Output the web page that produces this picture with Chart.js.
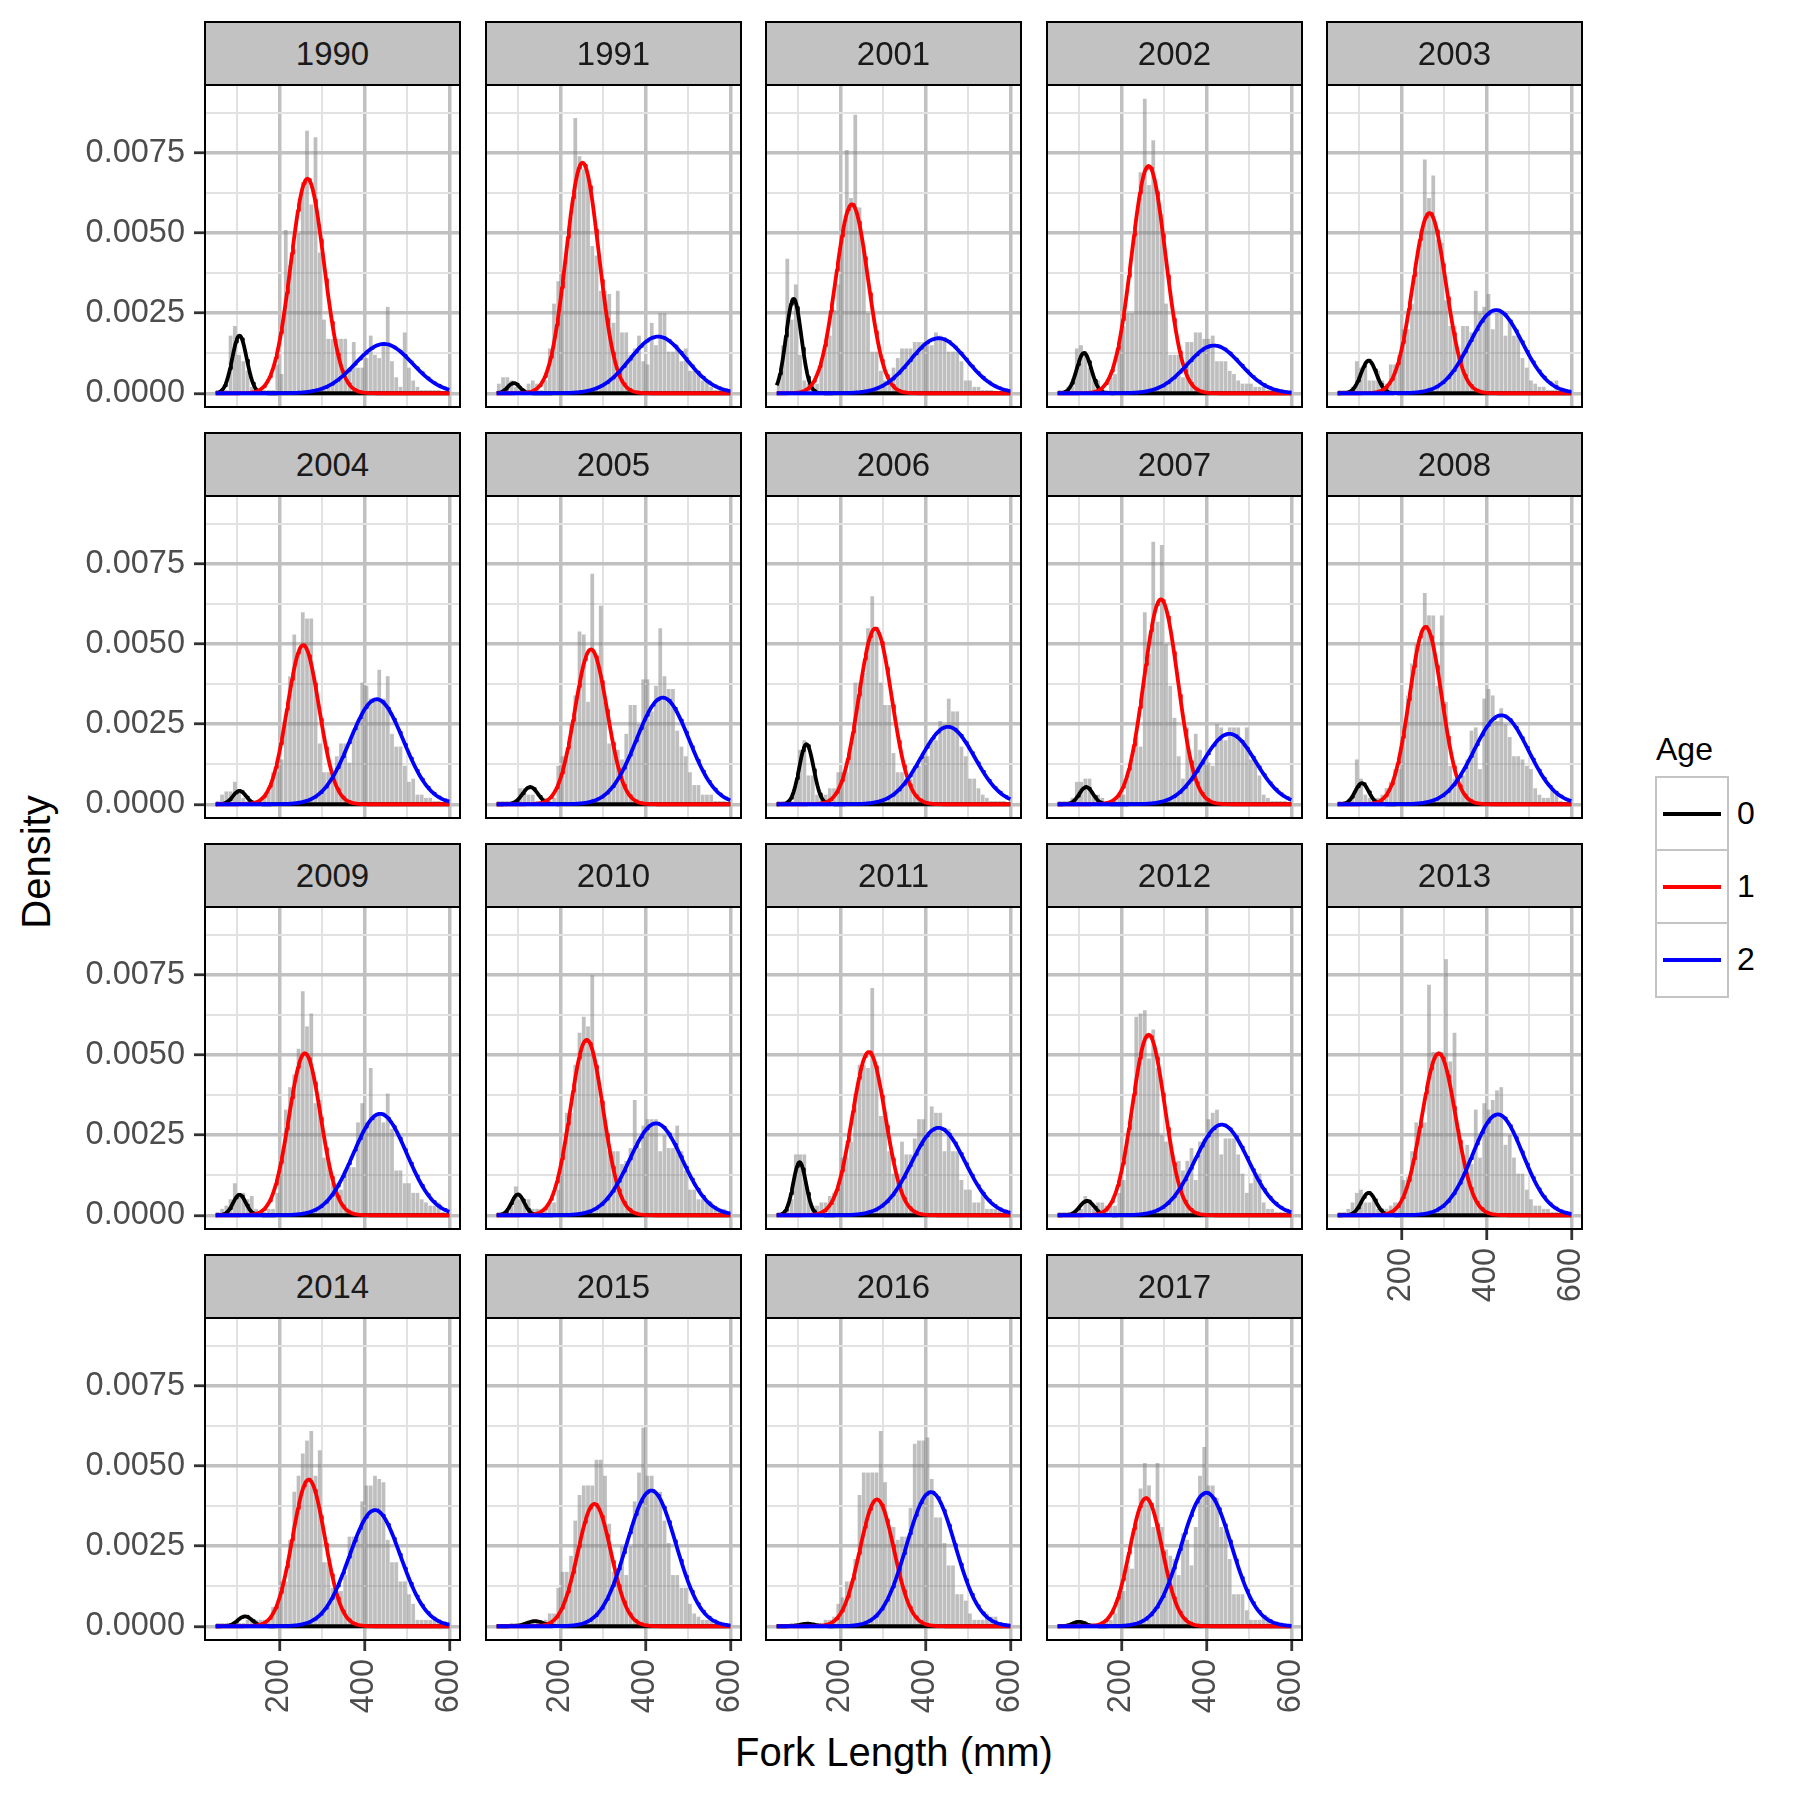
<!DOCTYPE html>
<html>
<head>
<meta charset="utf-8">
<title>Fork length density by year and age</title>
<script src="https://cdn.jsdelivr.net/npm/chart.js@4.4.1/dist/chart.umd.min.js"></script>
<style>
  html, body { margin:0; padding:0; background:#ffffff; }
  #root { position:relative; width:1799px; height:1799px; overflow:hidden; background:#fff;
          font-family:"Liberation Sans", Arial, Helvetica, sans-serif; }
  .strip { position:absolute; box-sizing:border-box; background:#c2c2c2; border:2px solid #000;
           color:#1a1a1a; font-size:33px; display:flex; align-items:center; justify-content:center; z-index:2; }
  canvas { position:absolute; z-index:1; }
  .axis-title { position:absolute; font-size:40px; line-height:40px; color:#000; white-space:nowrap; }
  .legend-title { position:absolute; font-size:32px; line-height:32px; color:#000; }
  .key { position:absolute; box-sizing:border-box; border:2.5px solid #c4c4c4; background:#fff; }
  .key-line { position:absolute; left:6px; right:6px; top:50%; height:4px; margin-top:-2px; }
  .key-label { position:absolute; font-size:32px; line-height:32px; color:#000; }
</style>
</head>
<body>
<div id="root"></div>
<script>
// ---------------- data ----------------
const YEARS = ['1990','1991','2001','2002','2003','2004','2005','2006','2007','2008',
               '2009','2010','2011','2012','2013','2014','2015','2016','2017'];

// histogram bin centres (mm), 10 mm bins
const BIN_CENTERS = [55,65,75,85,95,105,115,125,135,145,
                     155,165,175,185,195,205,215,225,235,245,
                     255,265,275,285,295,305,315,325,335,345,
                     355,365,375,385,395,405,415,425,435,445,
                     455,465,475,485,495,505,515,525,535,545,
                     555,565,575,585,595];

// histogram densities, in units of 1e-4
const DENSITY_UNIT = 1e-4;
const hist1990 = [1,1,1,18,21,12,10,7,2,1, 1,1,1,1,9,6,51,40,45,50, 66,82,59,80,44,23,17,17,17,17, 17,8,16,8,8,11,18,12,11,15, 27,10,5,2,19,8,4,2,1,1, 1,1,1,0,0];
const hist1991 = [3,5,5,4,2,1,1,3,4,3, 1,4,14,28,35,38,46,55,86,74, 70,68,46,43,32,32,31,22,32,19, 19,12,14,18,10,9,22,15,25,25, 13,13,15,10,14,7,7,7,4,4, 2,1,1,0,0];
const hist2001 = [5,15,42,23,34,12,4,3,3,3, 8,16,18,26,34,50,76,61,87,58, 46,25,13,13,7,4,5,8,11,14, 14,14,16,16,16,15,15,19,18,17, 13,13,13,10,4,4,2,2,1,1, 1,0,0,0,0];
const hist2002 = [1,1,2,3,14,15,13,8,4,4, 1,1,5,6,15,21,25,25,50,69, 92,65,79,61,56,28,12,12,12,5, 16,16,19,19,17,17,18,10,10,10, 7,6,4,3,3,3,2,2,2,1, 1,1,0,0,0];
const hist2003 = [1,1,1,2,10,8,8,4,4,7, 4,3,9,9,12,20,20,28,38,48, 73,61,68,48,47,29,21,21,12,21, 21,19,32,25,27,31,20,25,25,18, 23,18,18,11,8,4,3,2,2,1, 1,4,1,0,0];
const hist2004 = [1,3,4,4,7,4,2,1,1,1, 1,2,4,10,10,14,25,40,53,48, 60,58,58,36,19,10,10,10,15,19, 19,13,23,25,38,37,33,33,42,33, 40,22,18,18,12,7,8,3,3,2, 2,1,1,0,0];
const hist2005 = [1,1,1,1,1,5,5,3,3,1, 1,2,1,2,12,15,16,25,34,54, 53,32,72,46,62,32,19,19,17,14, 22,31,31,25,39,39,29,37,55,40, 36,36,23,18,15,10,6,6,3,3, 3,1,1,1,0];
const hist2006 = [1,1,1,1,6,17,20,9,9,3, 3,3,5,5,10,10,10,18,38,38, 41,55,65,54,38,31,31,16,10,10, 8,8,12,12,15,15,20,20,26,25, 33,29,29,18,15,8,8,5,3,2, 1,1,1,1,0];
const hist2007 = [1,1,1,2,7,7,8,8,3,3, 2,1,1,1,3,3,9,14,21,18, 60,47,82,57,81,50,37,27,15,8, 24,13,22,17,13,13,12,25,24,20, 24,24,24,19,24,14,14,9,3,2, 1,1,1,1,0];
const hist2008 = [1,1,1,2,14,8,3,2,2,2, 3,5,7,11,11,20,34,44,50,50, 66,59,59,37,59,32,12,8,6,9, 14,23,24,11,33,36,34,26,30,25, 21,15,15,14,12,11,5,3,2,2, 5,4,1,0,0];
const hist2009 = [1,2,3,5,10,7,7,5,6,2, 1,1,2,2,7,18,33,40,44,52, 70,59,63,35,36,18,18,10,10,8, 14,15,15,29,35,29,46,31,31,29, 38,27,14,14,10,10,7,7,5,4, 3,3,4,1,0];
const hist2010 = [1,1,1,3,9,5,5,5,2,2, 2,2,4,4,8,19,32,32,47,57, 62,59,75,47,36,29,20,20,20,16, 17,21,36,21,28,30,30,30,20,25, 21,21,28,20,14,8,8,5,5,4, 4,2,2,2,1];
const hist2011 = [1,1,2,5,19,19,19,7,3,3, 4,4,6,7,8,18,18,23,38,47, 47,46,71,46,31,31,20,13,13,23, 19,19,24,30,30,25,34,32,32,20, 27,20,20,11,8,8,4,4,8,2, 2,2,2,1,0];
const hist2012 = [1,1,1,1,2,2,6,4,2,4, 4,3,3,3,7,11,24,31,62,63, 64,49,58,46,25,23,23,16,17,14, 17,21,11,23,24,30,32,33,19,24, 24,24,19,13,7,10,13,13,4,2, 2,1,1,1,0];
const hist2013 = [1,1,2,4,7,8,4,4,5,2, 2,2,3,4,4,11,12,20,29,29, 29,72,51,51,51,80,48,57,27,18, 22,16,33,18,35,33,36,39,40,22, 25,18,13,13,8,5,3,3,2,2, 1,1,1,0,0];
const hist2014 = [1,1,1,1,1,1,1,2,2,2, 2,2,2,6,6,14,14,27,42,47, 54,58,61,47,55,20,20,12,11,11, 16,28,28,28,39,44,44,47,46,45, 27,20,20,14,14,10,7,2,2,2, 2,2,2,1,0];
const hist2015 = [0,0,0,1,1,1,1,1,1,1, 1,2,4,4,12,17,17,22,33,41, 44,44,44,52,52,47,32,17,17,25, 16,25,39,48,62,47,47,42,42,33, 26,16,16,12,12,7,4,3,2,2, 2,1,1,0,0];
const hist2016 = [0,0,0,1,1,1,1,1,1,1, 1,2,2,3,7,9,14,14,21,41, 48,48,48,48,61,45,30,31,27,28, 28,37,57,58,58,59,46,34,34,26, 19,19,10,10,8,4,2,2,2,4, 3,3,1,1,0];
const hist2017 = [0,0,1,1,1,1,1,1,1,1, 1,2,2,4,11,11,19,18,32,43, 51,44,31,51,31,24,22,21,16,29, 27,19,31,47,56,44,44,40,31,30, 21,10,10,10,5,2,2,2,3,3, 1,1,1,0,0];

// fitted age-component curves (mean mm, sd mm, peak in 1e-4 units)
const age0Mean = [106,90,90,112,123,106,129,120,117,107,106,100,104,119,123,119,140,122,100];
const age0Sd   = [17,14,18,17,18,15.5,18,17,16,16,15,15,15,17,17,17,20,17,15];
const age0Peak = [18,3.2,29.5,12.6,10.2,4.2,5.4,18.75,5.4,6.6,6.4,6.5,16.6,4.5,7,3.1,1.6,0.8,1.4];
const age1Mean = [266,252,227,264,266,256,272,282,293,257,260,262,267,264,288,269,280,286,258];
const age1Sd   = [39,38.5,38,40,39,37.5,38,39,40,38,37.5,38.5,39,38,40,38,39,40,38];
const age1Peak = [67,72,59,71,56.3,49.7,48.4,54.9,64,55.4,50.6,54.8,51,56.4,50.6,45.8,38.2,39.6,40];
const age2Mean = [446,430,431,418,423,429,441,453,454,435,437,425,431,436,427,425,414,413,400];
const age2Sd   = [67,66,66,63,62,63,62,63,62,64,63,62,63,63,59,60,58,57,59];
const age2Peak = [15.4,17.7,17.2,14.9,26,32.8,33.3,24.2,22,27.8,31.7,28.7,27.3,28.3,31.5,36.3,42.4,41.9,41.7];

const AGE_LABELS = ['0','1','2'];
const AGE_COLORS = ['#000000','#ff0000','#0000ff'];

const X_MAJOR_TICKS = [200,400,600];
const X_MINOR_TICKS = [100,300,500];
const Y_MAJOR_TICKS = [0,0.0025,0.005,0.0075];
const Y_TICK_LABELS = ['0.0000','0.0025','0.0050','0.0075'];
const Y_MINOR_TICKS = [0.00125,0.00375,0.00625,0.00875];

const X_TITLE = 'Fork Length (mm)';
const Y_TITLE = 'Density';
const LEGEND_TITLE = 'Age';

// ---------------- layout ----------------
const HISTOGRAMS = [hist1990,hist1991,hist2001,hist2002,hist2003,hist2004,hist2005,hist2006,hist2007,hist2008,
                    hist2009,hist2010,hist2011,hist2012,hist2013,hist2014,hist2015,hist2016,hist2017];
const FONT = '"Liberation Sans", Arial, Helvetica, sans-serif';
const X_MIN = 22.5, X_MAX = 627.5, Y_MIN = -0.00046, Y_MAX = 0.00966;
const COL_LEFT = [204, 485, 765, 1046, 1326];
const ROW_TOP = [21, 432, 843, 1254];
const STRIP_H = 63, PANEL_W = 257, PANEL_H = 324;
const N_COLS = 5;

Chart.defaults.font.family = FONT;

function near(a, b) { return Math.abs(a - b) < 1e-9; }
function inList(list, v) { return list.some(t => near(t, v)); }

function componentCurve(mean, sd, peak) {
  const pts = [];
  for (let x = 50; x <= 600; x += 2) {
    pts.push({ x: x, y: peak * DENSITY_UNIT * Math.exp(-0.5 * Math.pow((x - mean) / sd, 2)) });
  }
  return pts;
}

const panelBorder = {
  id: 'panelBorder',
  afterDraw(chart) {
    const a = chart.chartArea, ctx = chart.ctx;
    ctx.save();
    ctx.strokeStyle = '#000';
    ctx.lineWidth = 2;
    ctx.strokeRect(a.left + 1, a.top + 1, a.right - a.left - 2, a.bottom - a.top - 2);
    ctx.restore();
  }
};

const root = document.getElementById('root');

YEARS.forEach((year, i) => {
  const col = i % N_COLS, row = Math.floor(i / N_COLS);
  const showY = col === 0;
  const showX = i + N_COLS >= YEARS.length;
  const leftExtra = showY ? 150 : 0;
  const bottomExtra = showX ? 100 : 0;
  const panelLeft = COL_LEFT[col];
  const panelTop = ROW_TOP[row] + STRIP_H;

  const strip = document.createElement('div');
  strip.className = 'strip';
  strip.style.left = panelLeft + 'px';
  strip.style.top = ROW_TOP[row] + 'px';
  strip.style.width = PANEL_W + 'px';
  strip.style.height = (STRIP_H + 2) + 'px';
  strip.textContent = year;
  root.appendChild(strip);

  const canvas = document.createElement('canvas');
  const cw = PANEL_W + leftExtra, ch = PANEL_H + bottomExtra;
  canvas.width = cw; canvas.height = ch;
  canvas.style.left = (panelLeft - leftExtra) + 'px';
  canvas.style.top = panelTop + 'px';
  canvas.style.width = cw + 'px';
  canvas.style.height = ch + 'px';
  root.appendChild(canvas);

  const hist = HISTOGRAMS[i];
  const bars = BIN_CENTERS.map((x, j) => ({ x: x, y: hist[j] * DENSITY_UNIT }));
  const comps = [
    componentCurve(age0Mean[i], age0Sd[i], age0Peak[i]),
    componentCurve(age1Mean[i], age1Sd[i], age1Peak[i]),
    componentCurve(age2Mean[i], age2Sd[i], age2Peak[i])
  ];
  const lineDs = (k, order) => ({
    type: 'line', label: AGE_LABELS[k], data: comps[k], borderColor: AGE_COLORS[k],
    borderWidth: 3.8, pointRadius: 0, fill: false, tension: 0, order: order,
    borderJoinStyle: 'round'
  });

  new Chart(canvas, {
    type: 'bar',
    data: {
      datasets: [
        lineDs(2, 0), lineDs(1, 1), lineDs(0, 2),
        { type: 'bar', label: 'hist', data: bars, backgroundColor: 'rgba(128,128,128,0.5)',
          borderWidth: 0, barPercentage: 0.88, categoryPercentage: 1, order: 3 }
      ]
    },
    options: {
      responsive: false, maintainAspectRatio: false, animation: false, events: [],
      layout: { padding: 0, autoPadding: false },
      plugins: { legend: { display: false }, tooltip: { enabled: false }, title: { display: false } },
      scales: {
        x: {
          type: 'linear', min: X_MIN, max: X_MAX, offset: false,
          afterBuildTicks: s => { s.ticks = X_MINOR_TICKS.concat(X_MAJOR_TICKS).sort((a,b)=>a-b).map(v => ({ value: v })); },
          afterFit: s => { s.height = bottomExtra; s.paddingLeft = 0; s.paddingRight = 0; },
          ticks: {
            display: showX, autoSkip: false, minRotation: 90, maxRotation: 90, padding: 8,
            color: '#4d4d4d', font: { family: FONT, size: 32.5 },
            callback: v => inList(X_MAJOR_TICKS, v) ? String(v) : ''
          },
          grid: {
            offset: false,
            color: c => (c.tick && inList(X_MAJOR_TICKS, c.tick.value)) ? '#c0c0c0' : '#e2e2e2',
            lineWidth: c => (c.tick && inList(X_MAJOR_TICKS, c.tick.value)) ? 3.5 : 2,
            drawTicks: showX, tickLength: 10, tickWidth: 2.8,
            tickColor: c => (c.tick && inList(X_MAJOR_TICKS, c.tick.value)) ? '#333333' : 'rgba(0,0,0,0)'
          },
          border: { display: false }
        },
        y: {
          type: 'linear', min: Y_MIN, max: Y_MAX,
          afterBuildTicks: s => { s.ticks = Y_MAJOR_TICKS.concat(Y_MINOR_TICKS).sort((a,b)=>a-b).map(v => ({ value: v })); },
          afterFit: s => { s.width = leftExtra; s.paddingTop = 0; s.paddingBottom = 0; },
          ticks: {
            display: showY, autoSkip: false, padding: 9,
            color: '#4d4d4d', font: { family: FONT, size: 32.5 },
            callback: v => {
              const k = Y_MAJOR_TICKS.findIndex(t => near(t, v));
              return k >= 0 ? Y_TICK_LABELS[k] : '';
            }
          },
          grid: {
            color: c => (c.tick && inList(Y_MAJOR_TICKS, c.tick.value)) ? '#c0c0c0' : '#e2e2e2',
            lineWidth: c => (c.tick && inList(Y_MAJOR_TICKS, c.tick.value)) ? 3.5 : 2,
            drawTicks: showY, tickLength: 10, tickWidth: 2.8,
            tickColor: c => (c.tick && inList(Y_MAJOR_TICKS, c.tick.value)) ? '#333333' : 'rgba(0,0,0,0)'
          },
          border: { display: false }
        }
      }
    },
    plugins: [panelBorder]
  });
});

// axis titles
const yTitle = document.createElement('div');
yTitle.className = 'axis-title';
yTitle.textContent = Y_TITLE;
yTitle.style.left = '36px';
yTitle.style.top = '862px';
yTitle.style.transform = 'translate(-50%, -50%) rotate(-90deg)';
root.appendChild(yTitle);

const xTitle = document.createElement('div');
xTitle.className = 'axis-title';
xTitle.textContent = X_TITLE;
xTitle.style.left = '894px';
xTitle.style.top = '1752px';
xTitle.style.transform = 'translate(-50%, -50%)';
root.appendChild(xTitle);

// legend
const lt = document.createElement('div');
lt.className = 'legend-title';
lt.textContent = LEGEND_TITLE;
lt.style.left = '1656px';
lt.style.top = '733px';
root.appendChild(lt);

AGE_LABELS.forEach((lab, k) => {
  const key = document.createElement('div');
  key.className = 'key';
  key.style.left = '1655px';
  key.style.top = (776 + 73 * k) + 'px';
  key.style.width = '74px';
  key.style.height = '75.5px';
  const line = document.createElement('div');
  line.className = 'key-line';
  line.style.background = AGE_COLORS[k];
  key.appendChild(line);
  root.appendChild(key);
  const t = document.createElement('div');
  t.className = 'key-label';
  t.textContent = lab;
  t.style.left = '1737px';
  t.style.top = (812.5 + 73 * k - 16) + 'px';
  root.appendChild(t);
});
</script>
</body>
</html>
